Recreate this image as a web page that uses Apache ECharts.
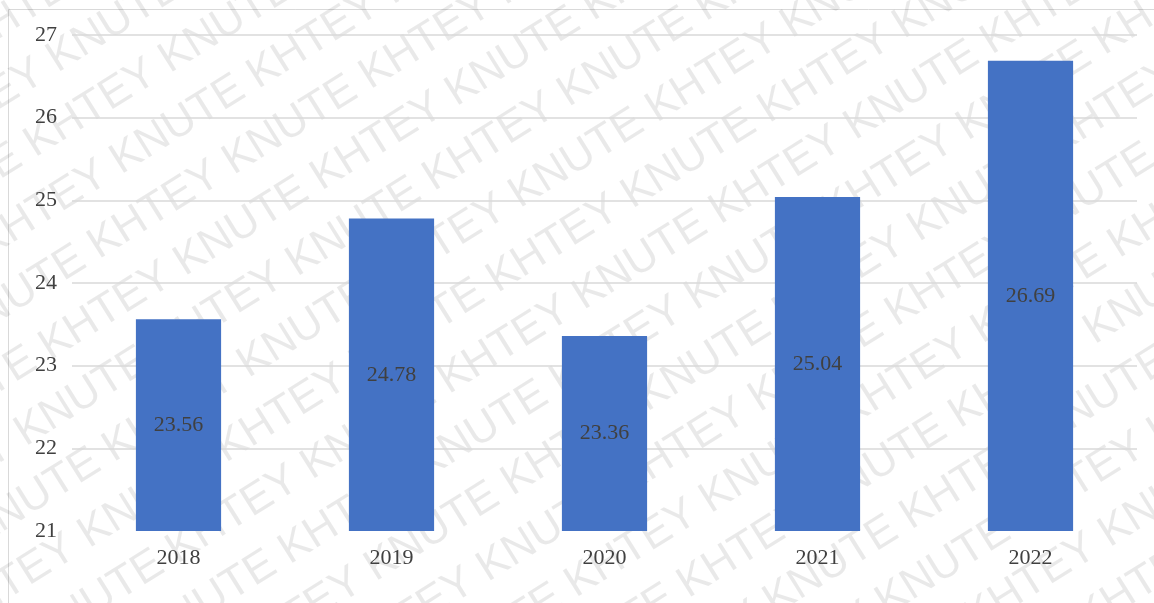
<!DOCTYPE html>
<html>
<head>
<meta charset="utf-8">
<script src="https://cdn.jsdelivr.net/npm/echarts@6/dist/echarts.min.js"></script>
<style>
html,body{margin:0;padding:0;background:#fff;}
#chart{width:1154px;height:603px;}
</style>
</head>
<body>
<div id="chart"></div>
<script>
const categories = ['2018', '2019', '2020', '2021', '2022'];
const values = [23.56, 24.78, 23.36, 25.04, 26.69];
const yMin = 21;
const yMax = 27;
const yStep = 1;
const watermarkWords = 'KNUTE KHTEY ';

const chart = echarts.init(document.getElementById('chart'));

const rows = [];
for (let i = -12; i <= 12; i++) {
  rows.push({
    type: 'text',
    x: (i % 2 === 0 ? 0 : 95),
    y: i * 60,
    style: {
      text: watermarkWords.repeat(12),
      font: '44px "Liberation Sans", Arial, sans-serif',
      fill: 'rgba(0,0,0,0.085)',
      align: 'center',
      verticalAlign: 'middle'
    },
    silent: true
  });
}

const option = {
  backgroundColor: '#fff',
  animation: false,
  grid: { left: 72, right: 17, top: 35, bottom: 72, containLabel: false },
  xAxis: {
    type: 'category',
    data: categories,
    axisLine: { show: false },
    axisTick: { show: false },
    axisLabel: { color: '#404040', fontFamily: '"Liberation Serif", "Times New Roman", serif', fontSize: 22, margin: 16 }
  },
  yAxis: {
    type: 'value',
    min: yMin,
    max: yMax,
    interval: yStep,
    axisLine: { show: false },
    axisTick: { show: false },
    axisLabel: { color: '#404040', fontFamily: '"Liberation Serif", "Times New Roman", serif', fontSize: 22, margin: 15 },
    splitLine: { lineStyle: { color: ['rgba(0,0,0,0)', '#d9d9d9', '#d9d9d9', '#d9d9d9', '#d9d9d9', '#d9d9d9', '#d9d9d9'], width: 1.5 } }
  },
  series: [{
    type: 'bar',
    data: values,
    barWidth: '40%',
    itemStyle: { color: '#4472C4' },
    label: {
      show: true,
      position: 'inside',
      color: '#404040',
      fontFamily: '"Liberation Serif", "Times New Roman", serif',
      fontSize: 22,
      formatter: p => p.value.toFixed(2)
    }
  }],
  graphic: [
    {
      type: 'rect',
      shape: { x: 8.5, y: 9.5, width: 1300, height: 800 },
      style: { fill: 'none', stroke: '#d9d9d9', lineWidth: 1 },
      silent: true,
      z: 0
    },
    {
      type: 'group',
      x: 577,
      y: 300,
      rotation: 32 * Math.PI / 180,
      children: rows,
      silent: true,
      z: 100
    }
  ]
};
chart.setOption(option);
</script>
</body>
</html>
